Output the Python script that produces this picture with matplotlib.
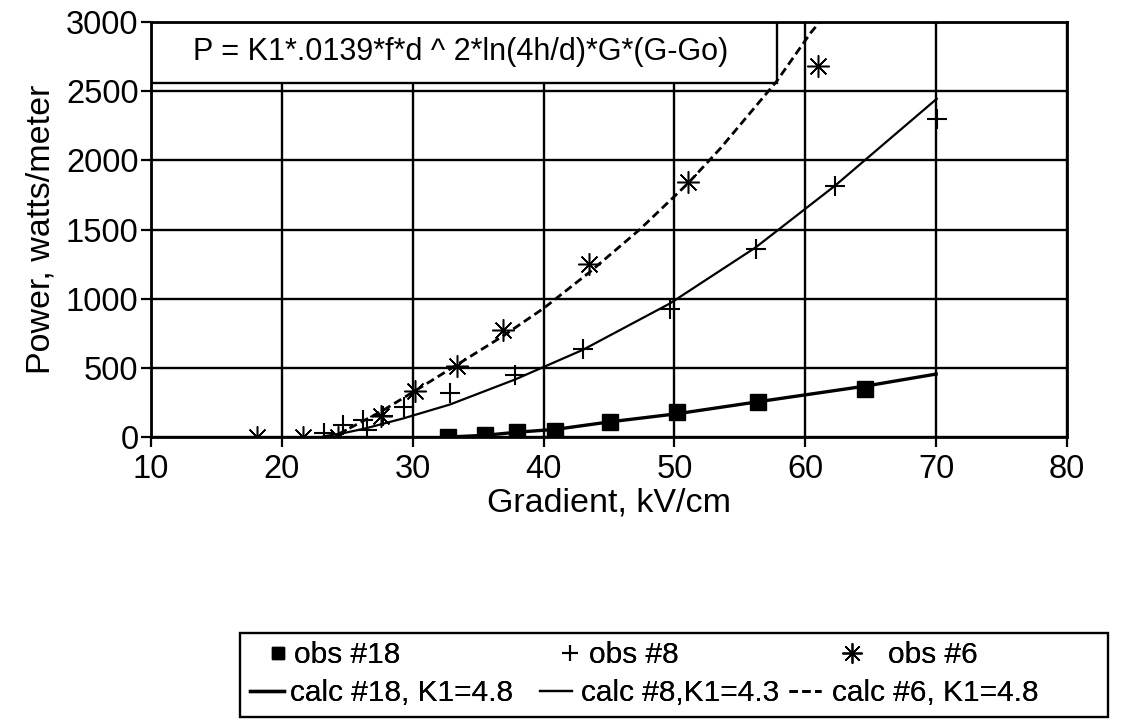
import matplotlib
matplotlib.use('Agg')
import matplotlib.pyplot as plt
from matplotlib.patches import Rectangle

plt.rcParams['font.family'] = ['Liberation Sans', 'DejaVu Sans']

# ---------------- data ----------------
obs18_x = [32.7, 35.5, 38.0, 40.9, 45.1, 50.2, 56.4, 64.6]
obs18_y = [0, 15, 35, 42, 105, 178, 253, 350]

calc18_x = [32.7, 35.5, 38.0, 40.9, 45.1, 50.2, 56.4, 64.6, 70.0]
calc18_y = [0, 12, 35, 55, 110, 168, 255, 368, 455]

obs8_x = [23.2, 24.7, 26.2, 26.5, 27.7, 29.3, 32.85, 37.8, 43.0, 49.65, 56.2, 62.25, 70.05]
obs8_y = [30, 85, 120, 50, 150, 215, 316, 448, 638, 924, 1360, 1815, 2300]

calc8_x = [23.2, 24.7, 26.3, 27.7, 29.3, 32.85, 37.8, 43.0, 49.65, 56.2, 62.25, 70.05]
calc8_y = [5, 28, 60, 95, 135, 235, 415, 630, 965, 1370, 1815, 2445]

obs6_x = [18.1, 21.6, 24.3, 27.6, 30.2, 33.35, 36.9, 43.5, 51.05, 61.0]
obs6_y = [0, 0, 0, 150, 330, 515, 770, 1247, 1840, 2680]

calc6_x = [24.3, 27.6, 30.2, 33.35, 36.9, 40.0, 43.5, 47.35, 51.05, 53.5, 57.8, 60.4, 61.1]
calc6_y = [20, 185, 335, 520, 730, 930, 1190, 1500, 1835, 2085, 2570, 2920, 3000]

x_ticks = [10, 20, 30, 40, 50, 60, 70, 80]
y_ticks = [0, 500, 1000, 1500, 2000, 2500, 3000]

formula = "P = K1*.0139*f*d ^ 2*ln(4h/d)*G*(G-Go)"
x_label = "Gradient, kV/cm"
y_label = "Power, watts/meter"

# ---------------- figure ----------------
W, H = 1124, 722
fig = plt.figure(figsize=(W / 100, H / 100), dpi=100)
ax = fig.add_axes([151 / W, 1 - 437 / H, 916 / W, 415 / H])

asterisk = (8, 2, 0)

h_o18, = ax.plot(obs18_x, obs18_y, linestyle='none', marker='s', ms=12,
                 color='black', label='obs #18', zorder=5)
h_o8, = ax.plot(obs8_x, obs8_y, linestyle='none', marker='+', ms=15, mew=1.5,
                color='black', label='obs #8', zorder=5)
h_o6, = ax.plot(obs6_x, obs6_y, linestyle='none', marker=asterisk, ms=16, mew=1.1,
                color='black', label='obs #6', zorder=5)

h_c18, = ax.plot(calc18_x, calc18_y, color='black', lw=2.4,
                 label='calc #18, K1=4.8', zorder=4)
h_c8, = ax.plot(calc8_x, calc8_y, color='black', lw=1.6,
                label='calc #8,K1=4.3', zorder=4)
h_c6, = ax.plot(calc6_x, calc6_y, color='black', lw=2.0, linestyle=(0, (3, 1.6)),
                label='calc #6, K1=4.8', zorder=4)

ax.set_xlim(10, 80)
ax.set_ylim(0, 3000)
ax.set_xticks(x_ticks)
ax.set_yticks(y_ticks)
ax.set_axisbelow(True)
ax.grid(True, color='black', lw=1.7)
for s in ax.spines.values():
    s.set_linewidth(2.0)
ax.tick_params(direction='out', length=7, width=1.6, labelsize=23.5, colors='black')
ax.tick_params(axis='x', pad=5)
ax.tick_params(axis='y', pad=2)

ax.set_xlabel(x_label, fontsize=24.5, labelpad=2)
ax.set_ylabel(y_label, fontsize=24.5, labelpad=7)

# formula box
box = Rectangle((0, 0.853), 0.683, 0.147, transform=ax.transAxes,
                facecolor='white', edgecolor='black', lw=1.7, zorder=2.5)
ax.add_patch(box)
ax.text(0.338, 0.927, formula, transform=ax.transAxes, ha='center', va='center',
        fontsize=22, zorder=3)

# legend: each entry placed like the original (two independent rows)
leg_fs = 21.5
fs_px = leg_fs * 100 / 72
entries = [
    # handle, handle-left px, row-centre px, handle length px, text pad px, marker scale
    (h_o18, 266, 655, 24, 4, 0.7),
    (h_o8, 558, 655, 24, 7, 0.8),
    (h_o6, 840, 655, 24, 24, 0.9),
    (h_c18, 250, 693, 34, 6, 1.0),
    (h_c8, 540, 693, 32, 9, 1.0),
    (h_c6, 789, 693, 32, 11, 1.0),
]
for h, xl, yc, hl, tp, ms in entries:
    lg = fig.legend(handles=[h], loc='center left',
                    bbox_to_anchor=(xl / W, 1 - yc / H),
                    fontsize=leg_fs, frameon=False, handlelength=hl / fs_px,
                    handletextpad=tp / fs_px, borderpad=0, borderaxespad=0,
                    markerscale=ms)
    fig.add_artist(lg)

frame = Rectangle((240 / W, 1 - 717 / H), (1108 - 240) / W, (717 - 633) / H,
                  transform=fig.transFigure, facecolor='none', edgecolor='black',
                  lw=1.7)
fig.add_artist(frame)

fig.savefig('out.png', dpi=100, facecolor='white')
